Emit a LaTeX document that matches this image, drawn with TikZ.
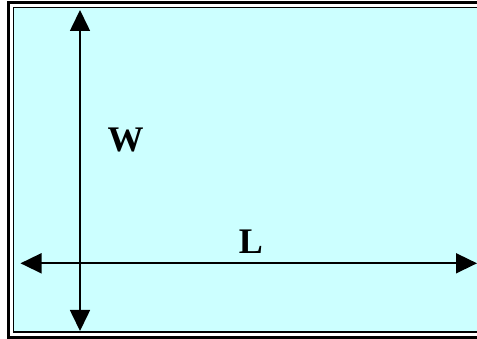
\documentclass[tikz,border=0pt]{standalone}
\usepackage{fontspec}
\setmainfont{Liberation Serif}
\usepackage{tikz}
\usetikzlibrary{arrows.meta, positioning, calc}
\definecolor{paleaqua}{RGB}{204,255,255}

\begin{document}
\begin{tikzpicture}[
      x=1pt, y=-1pt,
      frame/.style={draw=black, line width=2.6pt},
      innerframe/.style={draw=black, fill=paleaqua, line width=1.4pt},
      line/.style={draw, line width=1.6pt, {Triangle[length=21pt, width=20pt]}-{Triangle[length=21pt, width=20pt]}},
      dimlabel/.style={font=\bfseries\fontsize{36}{40}\selectfont, inner sep=0pt, anchor=base}
  ]
      \useasboundingbox (0,0) rectangle (477,339);
      \fill[white] (0,0) rectangle (477,339);

      % double frame
      \path [frame]      (8.7,2.8) rectangle (492,337.4);
      \path [innerframe] (13.3,7.6) rectangle (487,332.2);

      % arrow ends
      \coordinate (wtop) at (80,10);
      \coordinate (wbot) at (80,331);
      \coordinate (lleft)  at (20.5,263.3);
      \coordinate (lright) at (477,263.3);

      \path [line] (wtop) -- (wbot);
      \path [line] (lleft) -- (lright);

      \node (wlabel) [dimlabel] at (125.5,152) {W};
      \node (llabel) [dimlabel] at (251,254) {L};
  \end{tikzpicture}
\end{document}
